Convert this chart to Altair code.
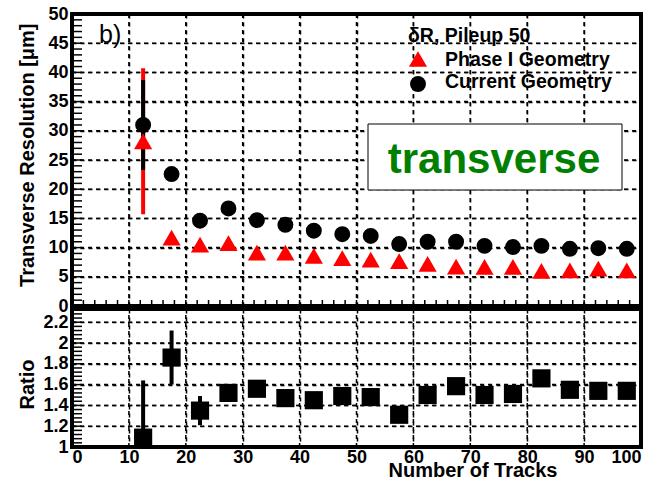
import altair as alt
import pandas as pd

# ---- data: bin centres (number of tracks) and per-bin results ----
n_tracks = [12.5, 17.5, 22.5, 27.5, 32.5, 37.5, 42.5, 47.5, 52.5,
            57.5, 62.5, 67.5, 72.5, 77.5, 82.5, 87.5, 92.5, 97.5]

# transverse resolution [um], Phase I geometry
phase1_res = [28.2, 11.7, 10.5, 10.75, 9.15, 9.15, 8.6, 8.2, 7.95,
              7.7, 7.2, 6.75, 6.7, 6.7, 6.0, 6.1, 6.4, 6.1]
phase1_err = [12.5, 0.5, 0.5, 0.5, 0.4, 0.4, 0.4, 0.4, 0.4,
              0.4, 0.4, 0.4, 0.4, 0.4, 0.4, 0.4, 0.4, 0.4]

# transverse resolution [um], current geometry
current_res = [31.0, 22.6, 14.6, 16.7, 14.7, 13.9, 12.9, 12.3, 12.0,
               10.6, 11.0, 11.0, 10.3, 10.1, 10.3, 9.8, 9.9, 9.8]
current_err = [7.7, 0.8, 0.6, 0.9, 0.5, 0.5, 0.5, 0.5, 0.5,
               0.5, 0.5, 0.5, 0.5, 0.5, 0.5, 0.5, 0.5, 0.5]

# current / Phase I
ratio = [1.09, 1.86, 1.35, 1.52, 1.56, 1.47, 1.45, 1.49, 1.48,
         1.31, 1.50, 1.585, 1.50, 1.51, 1.66, 1.55, 1.54, 1.54]
ratio_err = [0.55, 0.26, 0.14, 0.085, 0.05, 0.05, 0.05, 0.05, 0.05,
             0.05, 0.05, 0.05, 0.05, 0.05, 0.05, 0.05, 0.05, 0.05]

x_major = [0, 10, 20, 30, 40, 50, 60, 70, 80, 90, 100]
x_minor = list(range(0, 101, 2))
top_major = [0, 5, 10, 15, 20, 25, 30, 35, 40, 45, 50]
top_minor = list(range(0, 51))
bot_major = [1.0, 1.2, 1.4, 1.6, 1.8, 2.0, 2.2]
bot_minor = [round(1.0 + 0.04 * i, 2) for i in range(34)]

FONT = "Liberation Sans"
W = 569
H_TOP = 292
H_BOT = 138
X_DOM = [0, 100]
Y_TOP_DOM = [0, 50]
Y_BOT_DOM = [1.0, 2.327]

# pixel -> data-unit factors, used for the tick-mark lengths
PX_X = (X_DOM[1] - X_DOM[0]) / W
PX_TOP = (Y_TOP_DOM[1] - Y_TOP_DOM[0]) / H_TOP

# one long table: measured points plus the frame furniture (grid / ticks),
# each layer picks its rows through the "kind" column
points = pd.DataFrame({
    "kind": "pt",
    "tracks": n_tracks,
    "p1": phase1_res,
    "p1_lo": [v - e for v, e in zip(phase1_res, phase1_err)],
    "p1_hi": [v + e for v, e in zip(phase1_res, phase1_err)],
    "cur": current_res,
    "cur_lo": [v - e for v, e in zip(current_res, current_err)],
    "cur_hi": [v + e for v, e in zip(current_res, current_err)],
    "ratio": ratio,
    "r_lo": [v - e for v, e in zip(ratio, ratio_err)],
    "r_hi": [v + e for v, e in zip(ratio, ratio_err)],
})
furniture = pd.concat([
    pd.DataFrame({"kind": "vgt", "gx": x_major[1:-1],
                  "a": Y_TOP_DOM[0], "b": Y_TOP_DOM[1]}),
    pd.DataFrame({"kind": "vgb", "gx": x_major[1:-1],
                  "a": Y_BOT_DOM[0], "b": Y_BOT_DOM[1]}),
    pd.DataFrame({"kind": "hgt", "gy": top_major[1:-1],
                  "a": X_DOM[0], "b": X_DOM[1]}),
    pd.DataFrame({"kind": "hgb", "gy": bot_major[1:],
                  "a": X_DOM[0], "b": X_DOM[1]}),
    pd.DataFrame({"kind": "ltt", "gy": top_minor,
                  "a": X_DOM[0], "b": X_DOM[0] + 10 * PX_X}),
    pd.DataFrame({"kind": "ltb", "gy": bot_minor,
                  "a": X_DOM[0], "b": X_DOM[0] + 10 * PX_X}),
    pd.DataFrame({"kind": "btt", "gx": x_minor,
                  "a": Y_TOP_DOM[0], "b": Y_TOP_DOM[0] + 6 * PX_TOP}),
], ignore_index=True)
table = pd.concat([points, furniture], ignore_index=True)

x_scale = alt.Scale(domain=X_DOM, nice=False, zero=False)
y_top_scale = alt.Scale(domain=Y_TOP_DOM, nice=False, zero=False)
y_bot_scale = alt.Scale(domain=Y_BOT_DOM, nice=False, zero=False)

axis_base = dict(ticks=False, domain=False,
                 grid=True, gridColor="#000000", gridDash=[4, 4],
                 gridWidth=1.5, gridOpacity=1,
                 labelFont=FONT, labelFontSize=18, labelFontWeight="bold",
                 labelColor="black", labelOverlap=False,
                 titleFont=FONT, titleFontSize=20, titleFontWeight="bold",
                 titleColor="black")

X_TOP_AXIS = alt.Axis(orient="bottom", values=x_major, labels=False,
                      title="", **axis_base)
Y_TOP_AXIS = alt.Axis(orient="left", values=top_major, labelPadding=4,
                      title="Transverse Resolution [μm]", titleAngle=270,
                      titleAlign="right", titleBaseline="alphabetic",
                      titleX=-39, titleY=9, **axis_base)
X_BOT_AXIS = alt.Axis(orient="bottom", values=x_major, labelPadding=1,
                      title="Number of Tracks", titleAlign="right",
                      titleBaseline="alphabetic", titleX=485, titleY=29,
                      **axis_base)
Y_BOT_AXIS = alt.Axis(orient="left", values=bot_major, format="~g",
                      labelPadding=4, title="Ratio", titleAngle=270,
                      titleAlign="right", titleBaseline="alphabetic",
                      titleX=-39, titleY=50, **axis_base)

GRID = dict(stroke="#000000", strokeDash=[4, 4], strokeWidth=1.5)
TICK = dict(stroke="#000000", strokeWidth=1.5)

base = alt.Chart(table)


def X(field, axis):
    return alt.X(field, type="quantitative", scale=x_scale, axis=axis)


def Y(field, scale, axis):
    return alt.Y(field, type="quantitative", scale=scale, axis=axis)


def sel(kind):
    return base.transform_filter(alt.datum.kind == kind)


def vrules(kind, style, scale, xa, ya):
    return sel(kind).mark_rule(**style).encode(
        x=X("gx", xa), y=Y("a", scale, ya), y2="b:Q")


def hrules(kind, style, scale, xa, ya):
    return sel(kind).mark_rule(**style).encode(
        y=Y("gy", scale, ya), x=X("a", xa), x2="b:Q")


one = pd.DataFrame({"k": [0]})


def label(text, x, y, size, weight="bold", color="black", align="left"):
    return alt.Chart(one).mark_text(
        text=text, font=FONT, fontSize=size, fontWeight=weight, color=color,
        align=align, baseline="alphabetic").encode(
        x=alt.value(x), y=alt.value(y))


# ---------------- upper pad: resolution ----------------
pts = sel("pt")
red_bars = pts.mark_rule(color="#ff0000", strokeWidth=4).encode(
    x=X("tracks", X_TOP_AXIS), y=Y("p1_lo", y_top_scale, Y_TOP_AXIS), y2="p1_hi:Q")
black_bars = pts.mark_rule(color="black", strokeWidth=4).encode(
    x=X("tracks", X_TOP_AXIS), y=Y("cur_lo", y_top_scale, Y_TOP_AXIS), y2="cur_hi:Q")
triangles = pts.mark_point(shape="triangle-up", filled=True,
                           color="#ff0000", size=330, opacity=1).encode(
    x=X("tracks", X_TOP_AXIS), y=Y("p1", y_top_scale, Y_TOP_AXIS))
circles = pts.mark_circle(color="black", size=254, opacity=1).encode(
    x=X("tracks", X_TOP_AXIS), y=Y("cur", y_top_scale, Y_TOP_AXIS))

panel_tag = label("b)", 27, 29, 25, weight="normal")
leg_head = label("δR, Pileup 50", 336, 28, 19.5)
leg_tri = alt.Chart(one).mark_point(shape="triangle-up", filled=True,
                                    color="#ff0000", size=330, opacity=1).encode(
    x=alt.value(346), y=alt.value(45))
leg_tri_txt = label("Phase I Geometry", 373, 52, 19.5)
leg_circ = alt.Chart(one).mark_circle(color="black", size=254, opacity=1).encode(
    x=alt.value(346), y=alt.value(70))
leg_circ_txt = label("Current Geometry", 373, 74, 19.5)
box = alt.Chart(one).mark_rect(fill="white", stroke="black", strokeWidth=1).encode(
    x=alt.value(296), x2=alt.value(550), y=alt.value(110), y2=alt.value(176))
box_txt = label("transverse", 422, 159, 42, color="#008000", align="center")

top = alt.layer(
    vrules("vgt", GRID, y_top_scale, X_TOP_AXIS, Y_TOP_AXIS),
    hrules("hgt", GRID, y_top_scale, X_TOP_AXIS, Y_TOP_AXIS),
    hrules("ltt", TICK, y_top_scale, X_TOP_AXIS, Y_TOP_AXIS),
    vrules("btt", TICK, y_top_scale, X_TOP_AXIS, Y_TOP_AXIS),
    red_bars, black_bars, triangles, circles,
    panel_tag, leg_head, leg_tri, leg_tri_txt, leg_circ, leg_circ_txt,
    box, box_txt,
).properties(width=W, height=H_TOP)

# ---------------- lower pad: ratio ----------------
ratio_bars = pts.mark_rule(color="black", strokeWidth=4, clip=True).encode(
    x=X("tracks", X_BOT_AXIS), y=Y("r_lo", y_bot_scale, Y_BOT_AXIS), y2="r_hi:Q")
squares = pts.mark_square(color="black", size=330, opacity=1).encode(
    x=X("tracks", X_BOT_AXIS), y=Y("ratio", y_bot_scale, Y_BOT_AXIS))

bottom = alt.layer(
    vrules("vgb", GRID, y_bot_scale, X_BOT_AXIS, Y_BOT_AXIS),
    hrules("hgb", GRID, y_bot_scale, X_BOT_AXIS, Y_BOT_AXIS),
    hrules("ltb", TICK, y_bot_scale, X_BOT_AXIS, Y_BOT_AXIS),
    ratio_bars, squares,
).properties(width=W, height=H_BOT)

chart = alt.vconcat(top, bottom, spacing=3, bounds="flush").properties(
    padding={"left": 15, "top": 3, "right": 0, "bottom": 0},
    background="white",
).configure_view(stroke="black", strokeWidth=4)

chart.save("out.html", embed_options={"renderer": "svg", "actions": False})
